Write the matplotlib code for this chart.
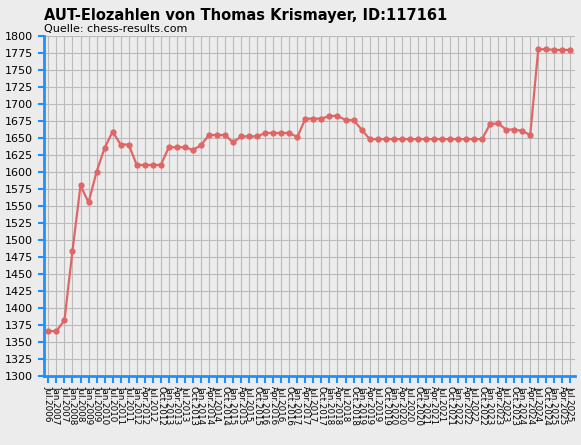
import matplotlib
matplotlib.use("Agg")
from matplotlib import pyplot as plt

labels = ["Jul.2006", "Jan.2007", "Jul.2007", "Jan.2008", "Jul.2008", "Jan.2009", "Jul.2009",
          "Jan.2010", "Jul.2010", "Jan.2011", "Jul.2011"]
for yr in range(2012, 2026):
    for m in ["Jan.", "Apr.", "Jul.", "Oct."]:
        labels.append(m + str(yr))
labels = labels[:labels.index("Jul.2025") + 1]

elo = [1366, 1366, 1382, 1484, 1580, 1555, 1600, 1635, 1659, 1640, 1640,
       1610, 1610, 1610, 1610, 1636, 1636, 1636, 1632, 1639, 1654, 1654, 1654,
       1643, 1652, 1652, 1652, 1657, 1657, 1657, 1657, 1651, 1678, 1678, 1678,
       1682, 1682, 1676, 1676, 1662,
       1648, 1648, 1648, 1648, 1648, 1648, 1648, 1648, 1648, 1648, 1648, 1648,
       1648, 1648, 1648,
       1670, 1671, 1662, 1662, 1660, 1654, 1780, 1780, 1779, 1779, 1779]

bg = "#ECECEC"
blue = "#1E90FF"
fig = plt.figure(figsize=(5.81, 4.45), dpi=100, facecolor=bg)
ax = fig.add_axes([0.075, 0.155, 0.915, 0.765])
ax.set_facecolor(bg)
x = list(range(len(elo)))
ax.plot(x, elo, color="#E06666", lw=1.6, marker="o", ms=3.5)
ax.set_xlim(-0.6, len(elo) - 0.4)
ax.set_ylim(1300, 1800)
ax.set_yticks(range(1300, 1801, 25))
ax.set_xticks(x)
ax.set_xticklabels(labels, rotation=-90, fontsize=6.3, va="top", ha="center")
ax.tick_params(axis="y", labelsize=8, color=blue, length=4, width=1.5)
ax.tick_params(axis="x", color=blue, length=5, width=1.5, pad=2)
ax.grid(True, color="#BBBBBB", lw=0.8)
ax.set_axisbelow(True)
for s in ["top", "right"]:
    ax.spines[s].set_visible(False)
for s in ["left", "bottom"]:
    ax.spines[s].set_color(blue)
    ax.spines[s].set_linewidth(2)
fig.text(0.075, 0.965, "AUT-Elozahlen von Thomas Krismayer, ID:117161",
         fontsize=10.5, fontweight="bold", va="center")
fig.text(0.075, 0.935, "Quelle: chess-results.com", fontsize=8, va="center")
fig.savefig("out.png", dpi=100, facecolor=bg)
